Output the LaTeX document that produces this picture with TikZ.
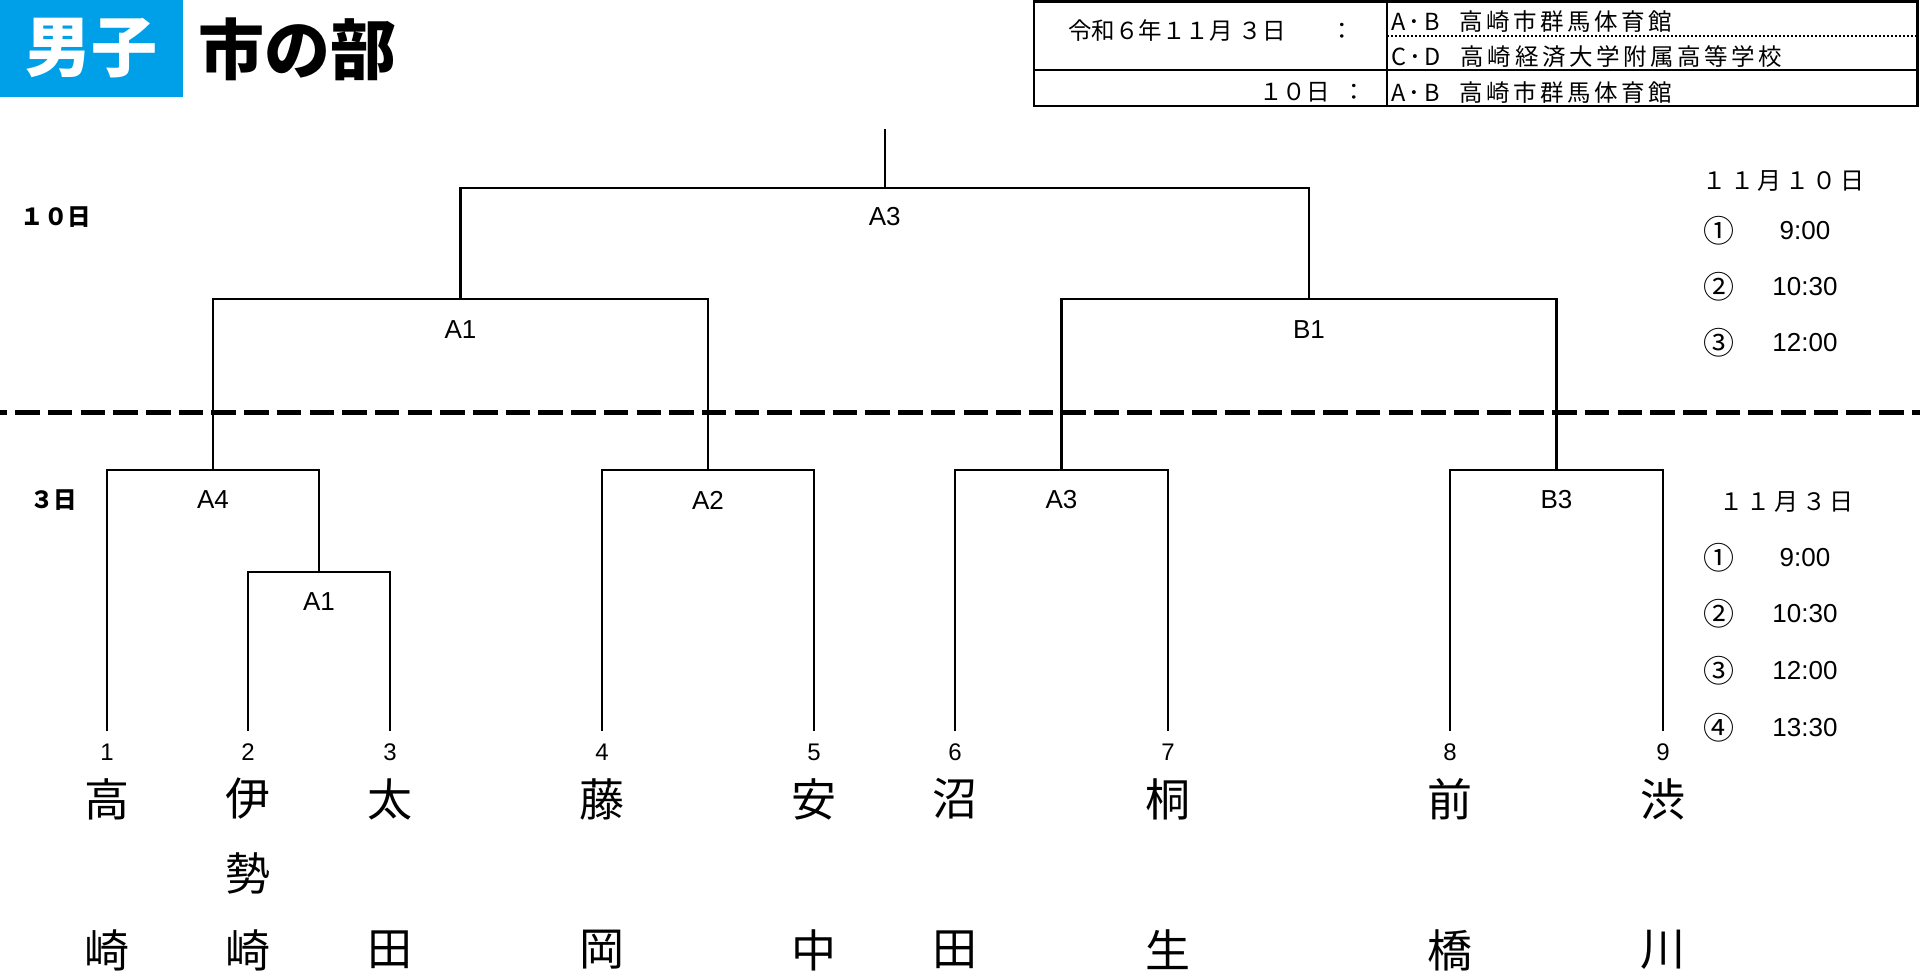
\documentclass[tikz,border=0pt]{standalone}
\usepackage{fontspec}
\setmainfont{Liberation Sans}
\newfontfamily\jp{Noto Sans CJK JP}
\newfontfamily\jpls{Noto Sans CJK JP}[LetterSpace=15]
\definecolor{titleblue}{RGB}{0,160,233}
\begin{document}
\begin{tikzpicture}[x=1pt,y=-1pt,
  every node/.style={inner sep=0pt, outer sep=0pt},
  br/.style={line width=2.2pt, line join=miter},
  dashsep/.style={line width=5pt, dash pattern=on 24.5pt off 8.2pt, dash phase=17.5pt},
  tline/.style={line width=2.5pt},
  tdot/.style={line width=2pt, dash pattern=on 2pt off 2pt},
  lbl/.style={font=\fontsize{26}{30}\selectfont},
  num/.style={font=\fontsize{24}{28}\selectfont},
  nm/.style={font=\jp\fontsize{45}{50}\selectfont},
  tm/.style={font=\fontsize{26}{30}\selectfont},
  circ/.style={font=\jp\fontsize{31}{34}\selectfont},
  cell/.style={font=\jp\fontsize{23.5}{27}\selectfont, anchor=west},
  cellw/.style={font=\jpls\fontsize{23.5}{27}\selectfont, anchor=west},
  sched/.style={font=\jpls\fontsize{24}{27}\selectfont},
  day/.style={font=\jp\bfseries\fontsize{23.5}{27}\selectfont},
  titlebox/.style={fill=titleblue, text=white, minimum width=183pt, minimum height=97pt, font=\jp\bfseries\fontsize{66}{70}\selectfont},
  titletext/.style={font=\jp\bfseries\fontsize{66}{70}\selectfont}
]
\useasboundingbox (0,0) rectangle (1920,980);

% title
\node[titlebox] (tA) at (91.5,48.5) {男子};
\node[titletext] (tB) at (297,49) {市の部};

% venue table
\coordinate (TA) at (1034,1.5);
\coordinate (TB) at (1917.5,106);
\coordinate (TL) at (1034,70);
\coordinate (TR) at (1917.5,70);
\coordinate (TC1) at (1387,1.5);
\coordinate (TC2) at (1387,106);
\coordinate (TD1) at (1387,36);
\coordinate (TD2) at (1917.5,36);
\draw[tline] (TA) rectangle (TB);
\draw[tline] (TL) -- (TR);
\draw[tline] (TC1) -- (TC2);
\draw[tdot] (TD1) -- (TD2);
\node[cell] (v3) at (1068,31) {令和６年１１月\hspace{6pt}３日\hspace{45pt}：};
\node[cell] (v10) at (1259,92) {１０日\hspace{13pt}：};
\node[cellw] (vAB1) at (1391,22) {A･B\hspace{20pt}高崎市群馬体育館};
\node[cellw] (vCD) at (1391,57) {C･D\hspace{20pt}高崎経済大学附属高等学校};
\node[cellw] (vAB2) at (1391,93) {A･B\hspace{20pt}高崎市群馬体育館};

% day labels
\node[day] (day10) at (56,217) {１０日};
\node[day] (day3) at (54,500) {３日};

% separator
\coordinate (dL) at (0,412);
\coordinate (dR) at (1920,412);
\draw[dashsep] (dL) -- (dR);

% bracket coordinates
\coordinate (L1) at (107,731);
\coordinate (L2) at (248,731);
\coordinate (L3) at (390,731);
\coordinate (L4) at (602,731);
\coordinate (L5) at (814,731);
\coordinate (L6) at (955,731);
\coordinate (L7) at (1168,731);
\coordinate (L8) at (1450,731);
\coordinate (L9) at (1663,731);
\coordinate (mA1s) at (319,572);
\coordinate (mA4) at (213,470);
\coordinate (mA2) at (708,470);
\coordinate (mA3s) at (1061.5,470);
\coordinate (mB3) at (1556.5,470);
\coordinate (mA1) at (460.5,299);
\coordinate (mB1) at (1309,299);
\coordinate (mF) at (884.75,188);
\coordinate (top) at (884.75,129);

\draw[br] (L2) |- (mA1s) -| (L3);
\draw[br] (L1) |- (mA4) -| (mA1s);
\draw[br] (L4) |- (mA2) -| (L5);
\draw[br] (L6) |- (mA3s) -| (L7);
\draw[br] (L8) |- (mB3) -| (L9);
\draw[br] (mA4) |- (mA1) -| (mA2);
\draw[br] (mA3s) |- (mB1) -| (mB3);
\draw[br] (mA1) |- (mF) -| (mB1);
\draw[br] (mF) -- (top);

% match labels
\node[lbl] (gF) at (884.75,217) {A3};
\node[lbl] (gA1) at (460.5,330) {A1};
\node[lbl] (gB1) at (1309,330) {B1};
\node[lbl] (gA4) at (213,500) {A4};
\node[lbl] (gA2) at (708,500) {A2};
\node[lbl] (gA3) at (1061.5,500) {A3};
\node[lbl] (gB3) at (1556.5,500) {B3};
\node[lbl] (gA1s) at (319,602) {A1};

% seeds and names
\foreach \x/\n/\a/\b in {107/1/高/崎, 248/2/伊/崎, 390/3/太/田, 602/4/藤/岡, 814/5/安/中, 955/6/沼/田, 1168/7/桐/生, 1450/8/前/橋, 1663/9/渋/川}{
  \node[num] (n\n) at (\x,752) {\n};
  \node[nm] (a\n) at (\x,799) {\a};
  \node[nm] (b\n) at (\x,950) {\b};
}
\node[nm] (c2) at (248,873) {勢};

% schedules
\node[sched] (h10) at (1783.5,181) {１１月１０日};
\node[circ] (p1) at (1719,231) {①};
\node[tm] (q1) at (1805,231) {9:00};
\node[circ] (p2) at (1719,287) {②};
\node[tm] (q2) at (1805,287) {10:30};
\node[circ] (p3) at (1719,343) {③};
\node[tm] (q3) at (1805,343) {12:00};

\node[sched] (h3) at (1786.5,502) {１１月３日};
\node[circ] (r1) at (1719,558) {①};
\node[tm] (s1) at (1805,558) {9:00};
\node[circ] (r2) at (1719,614) {②};
\node[tm] (s2) at (1805,614) {10:30};
\node[circ] (r3) at (1719,671) {③};
\node[tm] (s3) at (1805,671) {12:00};
\node[circ] (r4) at (1719,728) {④};
\node[tm] (s4) at (1805,728) {13:30};
\end{tikzpicture}
\end{document}
